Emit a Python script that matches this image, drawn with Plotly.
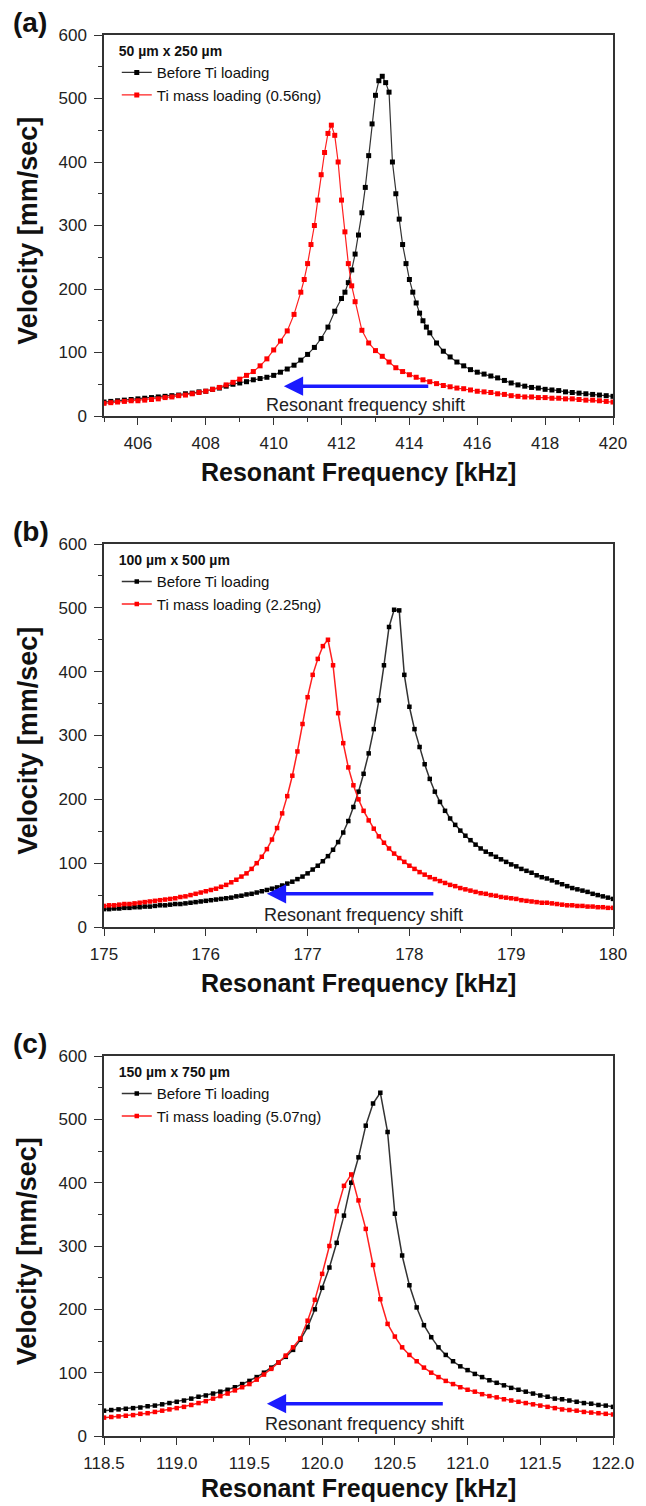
import plotly.graph_objects as go

# ---------------- data ----------------
# Panel (a) 50 um x 250 um
a_before_f = [405.0, 405.2, 405.4, 405.6, 405.8, 406.0, 406.2, 406.4, 406.6, 406.8,
              407.0, 407.2, 407.4, 407.6, 407.8, 408.0, 408.2, 408.4, 408.6, 408.8,
              409.0, 409.2, 409.4, 409.6, 409.8, 410.0, 410.2, 410.4, 410.6, 410.8,
              411.0, 411.2, 411.4, 411.6, 411.8, 412.0,
              412.1, 412.2, 412.3, 412.4, 412.5, 412.6, 412.7, 412.8, 412.9, 413.0,
              413.1, 413.2, 413.3, 413.4, 413.5, 413.6, 413.7, 413.8, 413.9, 414.0,
              414.1, 414.2, 414.3, 414.4, 414.5, 414.6,
              414.8, 415.0, 415.2, 415.4, 415.6, 415.8, 416.0, 416.2, 416.4, 416.6,
              416.8, 417.0, 417.2, 417.4, 417.6, 417.8, 418.0, 418.2, 418.4, 418.6,
              418.8, 419.0, 419.2, 419.4, 419.6, 419.8, 420.0]
a_before_v = [22, 23, 24, 25, 26, 27, 28, 29, 30, 31,
              32, 33, 35, 36, 38, 39, 42, 44, 47, 50,
              52, 54, 57, 59, 61, 64, 69, 74, 80, 88,
              97, 108, 122, 140, 165, 185,
              195, 210, 230, 255, 285, 320, 360, 410, 460, 505,
              528, 535, 525, 510, 400, 350, 310, 270, 240, 215,
              195, 178, 162, 150, 140, 131,
              115, 102, 93, 85, 79, 73, 69, 66, 63, 60,
              56, 52, 49, 47, 45, 44, 42, 41, 40, 38,
              37, 36, 35, 34, 33, 32, 31]
a_after_f = [405.0, 405.2, 405.4, 405.6, 405.8, 406.0, 406.2, 406.4, 406.6, 406.8,
             407.0, 407.2, 407.4, 407.6, 407.8, 408.0, 408.2, 408.4, 408.6, 408.8,
             409.0, 409.2, 409.4, 409.6, 409.8, 410.0, 410.2, 410.4, 410.6, 410.8,
             410.9, 411.0, 411.1, 411.2, 411.3, 411.4, 411.5, 411.6, 411.7, 411.8,
             411.9, 412.0, 412.1, 412.2, 412.3, 412.4,
             412.6, 412.8, 413.0, 413.2, 413.4, 413.6, 413.8, 414.0, 414.2, 414.4,
             414.6, 414.8, 415.0, 415.2, 415.4, 415.6, 415.8, 416.0, 416.2, 416.4,
             416.6, 416.8, 417.0, 417.2, 417.4, 417.6, 417.8, 418.0, 418.2, 418.4,
             418.6, 418.8, 419.0, 419.2, 419.4, 419.6, 419.8, 420.0]
a_after_v = [20, 21, 22, 23, 24, 24, 25, 26, 27, 29,
             30, 32, 33, 35, 37, 39, 42, 45, 49, 53,
             58, 64, 70, 79, 90, 104, 118, 134, 160, 195,
             215, 240, 270, 300, 340, 380, 415, 445, 458, 442,
             400, 340, 290, 240, 205, 180,
             135, 115, 103, 94, 85, 76, 70, 65, 61, 57,
             54, 51, 48, 46, 44, 43, 41, 39, 38, 37,
             35, 34, 32, 31, 30, 30, 29, 29, 28, 28,
             27, 27, 26, 25, 25, 24, 23, 22]

# Panel (b) 100 um x 500 um : frequency sweep 175.00 kHz, 0.05 kHz steps
b_sweep_start, b_sweep_step = 175.0, 0.05
b_before_v = [28, 28, 29, 29, 30, 30, 31, 31, 32, 32, 33, 34, 34, 35, 36, 36, 37, 38, 39, 40,
              41, 42, 43, 44, 45, 46, 48, 49, 51, 52, 54, 56, 58, 60, 62, 65, 68, 71, 75, 79,
              84, 90, 96, 103, 111, 121, 133, 148, 166, 188, 212, 240, 272, 310, 355, 410, 470, 497, 496, 395,
              345, 310, 282, 255, 232, 212, 196, 182, 170, 160, 151, 143, 136, 129, 123, 118, 114, 110, 106, 102,
              98, 95, 91, 88, 85, 81, 78, 76, 73, 70, 67, 64, 61, 59, 57, 55, 52, 50, 48, 46,
              44]
b_after_v = [33, 34, 34, 35, 36, 36, 37, 38, 39, 40, 41, 42, 43, 44, 45, 47, 48, 50, 52, 54,
             56, 58, 60, 63, 66, 70, 74, 79, 84, 91, 100, 110, 122, 137, 155, 178, 205, 237, 275, 318,
             360, 395, 420, 440, 450, 410, 335, 288, 250, 222, 200, 182, 167, 154, 142, 132, 123, 115, 108, 102,
             96, 91, 86, 82, 78, 75, 72, 69, 66, 64, 61, 59, 57, 55, 53, 52, 50, 49, 47, 46,
             45, 44, 42, 41, 40, 39, 38, 38, 37, 36, 35, 34, 34, 33, 33, 32, 32, 31, 31, 30,
             30]

# Panel (c) 150 um x 750 um : frequency sweep 118.50 kHz, 0.05 kHz steps
c_sweep_start, c_sweep_step = 118.5, 0.05
c_before_v = [40, 41, 42, 43, 44, 45, 47, 48, 50, 52,
              54, 56, 59, 62, 64, 67, 70, 73, 77, 82,
              87, 93, 100, 108, 116, 125, 136, 152, 172, 200,
              234, 266, 305, 348, 400, 440, 490, 525, 542, 480,
              351, 285, 238, 203, 175, 156, 140, 128, 118, 110,
              104, 98, 93, 88, 84, 80, 76, 73, 70, 67,
              64, 62, 59, 58, 56, 54, 52, 51, 49, 48,
              46]
c_after_v = [29, 30, 31, 32, 33, 35, 36, 38, 40, 42,
             44, 46, 49, 52, 55, 59, 63, 67, 72, 77,
             82, 89, 97, 106, 116, 127, 140, 154, 182, 215,
             256, 300, 355, 395, 413, 372, 327, 270, 216, 177,
             157, 140, 128, 118, 108, 100, 93, 87, 82, 77,
             73, 70, 66, 63, 61, 58, 56, 54, 52, 50,
             48, 46, 44, 42, 41, 40, 38, 37, 36, 35,
             34]

b_f = [round(b_sweep_start + b_sweep_step * k, 3) for k in range(len(b_before_v))]
c_f = [round(c_sweep_start + c_sweep_step * k, 3) for k in range(len(c_before_v))]

panel_labels = ["(a)", "(b)", "(c)"]
sizes = ["50 µm x 250 µm", "100 µm x 500 µm", "150 µm x 750 µm"]
after_names = ["Ti mass loading (0.56ng)", "Ti mass loading (2.25ng)", "Ti mass loading (5.07ng)"]
before_name = "Before Ti loading"
x_ranges = [[405, 420], [175, 180], [118.5, 122.0]]
x_dticks = [2, 1, 0.5]
x_tick0 = [406, 175, 118.5]
x_minor = [1, 0.5, 0.25]
arrow_tail = [(414.6, 47), (178.25, 52), (120.84, 51)]
arrow_head = [(410.3, 47), (176.6, 52), (119.62, 51)]
arrow_text = [(412.7, 17), (177.55, 19), (120.29, 19)]

befores = [(a_before_f, a_before_v), (b_f, b_before_v), (c_f, c_before_v)]
afters = [(a_after_f, a_after_v), (b_f, b_after_v), (c_f, c_after_v)]

# ---------------- layout geometry (page px; page body has an 8px margin) ----------------
OFF = 8
W, H = 646 - OFF, 1506 - OFF
ML, MR, MT, MB = 104 - OFF, 24, 35 - OFF, 70
plot_h = H - MT - MB
plot_w = W - ML - MR
panel_px = [(35, 416), (544, 927), (1056, 1436)]  # top, bottom (page px)
xtitle_gap = [56, 56, 52]


def py(p):
    return (H - MB - (p - OFF)) / plot_h


def px(p):
    return (p - OFF - ML) / plot_w


fig = go.Figure()
legend_names = ["legend", "legend2", "legend3"]
axis_font = dict(family="Liberation Sans, Arial, sans-serif", size=17, color="#222")
title_font = dict(family="Liberation Sans, Arial, sans-serif", size=25, color="#111")
ytitle_font = dict(family="Liberation Sans, Arial, sans-serif", size=27, color="#111")
mk_size = [5, 4.5, 4.5]
ln_w = [1.2, 1.5, 1.5]

for i in range(3):
    xs = "x" if i == 0 else f"x{i+1}"
    ys = "y" if i == 0 else f"y{i+1}"
    bf, bv = befores[i]
    af, av = afters[i]
    fig.add_trace(go.Scatter(
        x=bf, y=bv, mode="lines+markers", name=before_name, xaxis=xs, yaxis=ys,
        line=dict(color="#333", width=ln_w[i]), marker=dict(symbol="square", size=mk_size[i], color="black"),
        legend=legend_names[i]))
    fig.add_trace(go.Scatter(
        x=af, y=av, mode="lines+markers", name=after_names[i], xaxis=xs, yaxis=ys,
        line=dict(color="#ff2020", width=ln_w[i]), marker=dict(symbol="square", size=mk_size[i], color="#ff0000"),
        legend=legend_names[i]))

    top, bot = panel_px[i]
    xkey = "xaxis" if i == 0 else f"xaxis{i+1}"
    ykey = "yaxis" if i == 0 else f"yaxis{i+1}"
    fig.update_layout(**{
        xkey: dict(domain=[0, 1], anchor=ys, range=x_ranges[i], tick0=x_tick0[i], dtick=x_dticks[i],
                   tickformat=".1f" if i == 2 else "d",
                   showline=True, mirror=True, linecolor="#333", linewidth=1.5,
                   ticks="outside", ticklen=7, tickwidth=1.3, tickcolor="#333",
                   minor=dict(ticks="outside", ticklen=4, dtick=x_minor[i], tick0=x_tick0[i],
                              tickcolor="#333", showgrid=False),
                   showgrid=False, zeroline=False, tickfont=axis_font, ticklabelstandoff=4),
        ykey: dict(domain=[py(bot), py(top)], anchor=xs, range=[0, 600], dtick=100,
                   showline=True, mirror=True, linecolor="#333", linewidth=1.5,
                   ticks="outside", ticklen=8, tickwidth=1.3, tickcolor="#333",
                   minor=dict(ticks="outside", ticklen=4, dtick=50, tickcolor="#333", showgrid=False),
                   showgrid=False, zeroline=False, tickfont=axis_font, ticklabelstandoff=4),
        legend_names[i]: dict(x=px(117), y=py(top + 3), xanchor="left", yanchor="top",
                              bgcolor="rgba(0,0,0,0)", borderwidth=0, tracegroupgap=0,
                              font=dict(family="Liberation Sans, Arial, sans-serif", size=15, color="#111"),
                              title=dict(text="<b>" + sizes[i] + "</b>", side="top",
                                         font=dict(family="Liberation Sans, Arial, sans-serif",
                                                   size=14, color="#111")),
                              itemwidth=30),
    })

    # blue arrow + text
    fig.add_annotation(x=arrow_head[i][0], y=arrow_head[i][1], ax=arrow_tail[i][0], ay=arrow_tail[i][1],
                       xref=xs, yref=ys, axref=xs, ayref=ys, text="", showarrow=True,
                       arrowhead=2, arrowsize=1.1, arrowwidth=3.5, arrowcolor="#1a1aff")
    fig.add_annotation(x=arrow_text[i][0], y=arrow_text[i][1], xref=xs, yref=ys,
                       text="Resonant frequency shift", showarrow=False,
                       font=dict(family="Liberation Sans, Arial, sans-serif", size=18, color="#222"))
    # panel label
    fig.add_annotation(x=px(9), y=py(top - 13), xref="paper", yref="paper",
                       xanchor="left", yanchor="middle", text="<b>" + panel_labels[i] + "</b>",
                       showarrow=False, font=dict(family="Liberation Sans, Arial, sans-serif", size=28, color="#111"))
    # axis titles
    fig.add_annotation(x=0.5, y=py(bot + xtitle_gap[i]), xref="paper", yref="paper",
                       xanchor="center", yanchor="middle",
                       text="<b>Resonant Frequency [kHz]</b>", showarrow=False, font=title_font)
    fig.add_annotation(x=px(26), y=py((top + bot) / 2 + 5), xref="paper", yref="paper",
                       xanchor="center", yanchor="middle", textangle=-90,
                       text="<b>Velocity [mm/sec]</b>", showarrow=False, font=ytitle_font)

fig.update_layout(width=W, height=H, margin=dict(l=ML, r=MR, t=MT, b=MB),
                  paper_bgcolor="white", plot_bgcolor="white", showlegend=True)

fig.write_html("out.html")
